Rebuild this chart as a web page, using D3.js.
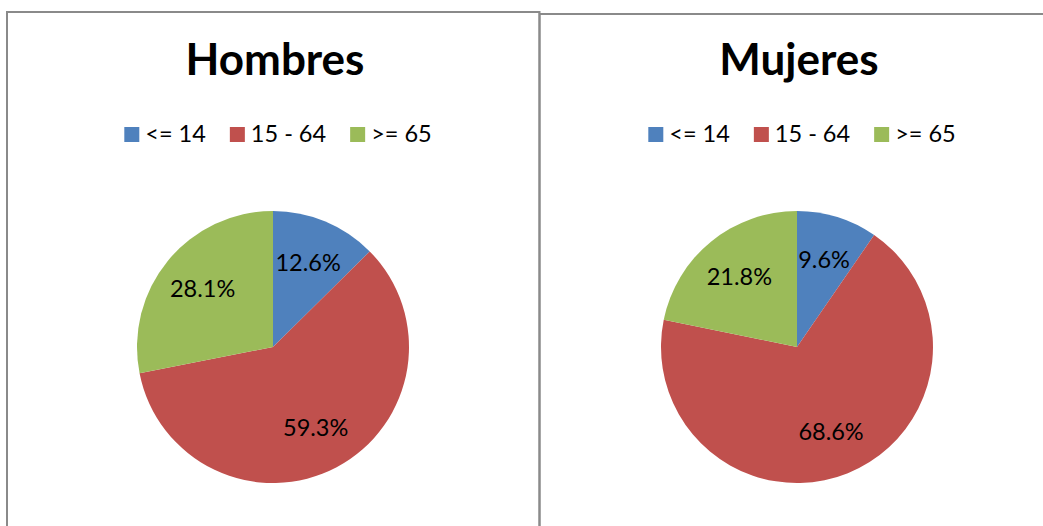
<!DOCTYPE html>
<html>
<head>
<meta charset="utf-8">
<script src="https://cdn.jsdelivr.net/npm/d3@7"></script>
<style>
  html, body { margin: 0; padding: 0; background: #fff; }
  svg { display: block; }
  text { font-family: Lato, "Open Sans", sans-serif; fill: #000; }
</style>
</head>
<body>
<svg id="chart" width="1043" height="526"></svg>
<script>
// Age groups and population shares (%) by sex
const ageGroups = ["<= 14", "15 - 64", ">= 65"];
const groupColors = ["#4F81BD", "#C0504D", "#9BBB59"];
const panelTitles = ["Hombres", "Mujeres"];
const hombresValues = [12.6, 59.3, 28.1];
const mujeresValues = [9.6, 68.6, 21.8];

const panels = [
  { title: panelTitles[0], values: hombresValues, x0: 7, x1: 539.5, top: 12, cx: 273 },
  { title: panelTitles[1], values: mujeresValues, x0: 539.5, x1: 1056, top: 14, cx: 797 }
];

const svg = d3.select("#chart");
const color = d3.scaleOrdinal().domain(ageGroups).range(groupColors);
const radius = 136;
const cy = 347;

const pie = d3.pie().sort(null).value(d => d.value);
const arc = d3.arc().innerRadius(0).outerRadius(radius);
const labelArc = d3.arc().innerRadius(radius * 0.67).outerRadius(radius * 0.67);

panels.forEach(p => {
  const g = svg.append("g");

  // panel frame
  g.append("rect")
    .attr("x", p.x0).attr("y", p.top)
    .attr("width", p.x1 - p.x0).attr("height", 600)
    .attr("fill", "none")
    .attr("stroke", "#8a8a8a")
    .attr("stroke-width", 2);

  // title
  g.append("text")
    .attr("x", p.cx + 2).attr("y", 75)
    .attr("text-anchor", "middle")
    .attr("font-size", 44)
    .attr("font-weight", "bold")
    .text(p.title);

  // legend
  const legend = g.append("g");
  let xPos = 0;
  ageGroups.forEach((name, i) => {
    const item = legend.append("g").attr("transform", `translate(${xPos},0)`);
    item.append("rect")
      .attr("x", 0).attr("y", -15)
      .attr("width", 15).attr("height", 15)
      .attr("fill", color(name));
    const t = item.append("text")
      .attr("x", 21).attr("y", 0)
      .attr("font-size", 23.5)
      .text(name);
    xPos += 21 + t.node().getComputedTextLength() + 24;
  });
  const legendWidth = xPos - 24;
  legend.attr("transform", `translate(${p.cx + 5 - legendWidth / 2},142)`);

  // pie
  const data = ageGroups.map((name, i) => ({ name, value: p.values[i] }));
  const arcs = pie(data);
  const pg = g.append("g").attr("transform", `translate(${p.cx},${cy})`);
  pg.selectAll("path")
    .data(arcs)
    .join("path")
    .attr("d", arc)
    .attr("fill", d => color(d.data.name));

  pg.selectAll("text.label")
    .data(arcs)
    .join("text")
    .attr("class", "label")
    .attr("transform", d => `translate(${labelArc.centroid(d)})`)
    .attr("text-anchor", "middle")
    .attr("dy", "0.35em")
    .attr("font-size", 23.5)
    .text(d => d.data.value.toFixed(1) + "%");
});
</script>
</body>
</html>
